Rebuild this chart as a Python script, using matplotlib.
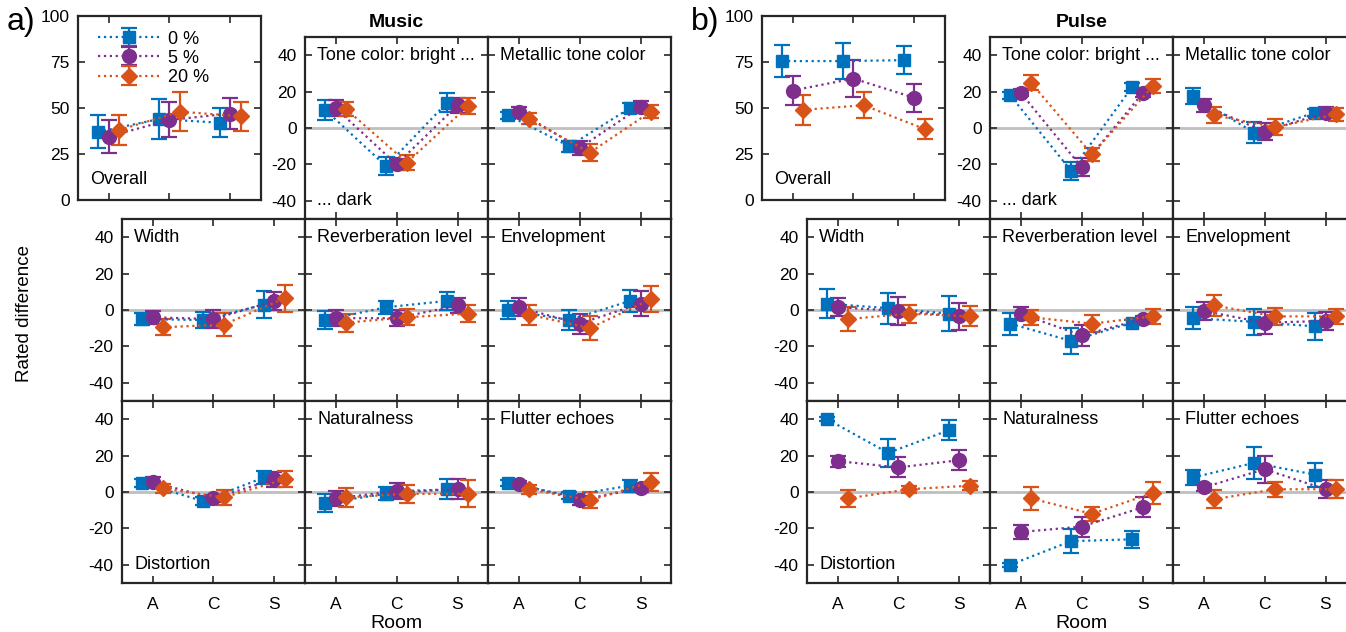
import matplotlib
matplotlib.use("Agg")
import matplotlib.pyplot as plt
import numpy as np

plt.rcParams["font.family"] = ["Liberation Sans", "DejaVu Sans"]
plt.rcParams["font.size"] = 12
plt.rcParams["axes.unicode_minus"] = False

rooms = ["A", "C", "S"]
levels = ["0 %", "5 %", "20 %"]
colors = ["#0072BD", "#7E2F8E", "#D95319"]
markers = ["s", "o", "D"]
msizes = [8.5, 10, 8]

panel_names = ["Overall", "Tone color: bright ...", "Metallic tone color",
               "Width", "Reverberation level", "Envelopment",
               "Distortion", "Naturalness", "Flutter echoes"]

# rows of each array: 0 %, 5 %, 20 %; columns: rooms A, C, S
music_overall_m = [[37, 44, 42], [34.5, 43.5, 47], [38, 48, 45.5]]
music_overall_e = [[9, 11, 8], [9, 9.5, 8.5], [8, 10.5, 8]]
music_tone_m = [[10, -21, 14], [11, -20, 12.5], [10.5, -19, 12]]
music_tone_e = [[5.5, 5, 5], [4.5, 3, 4], [4, 4, 4.5]]
music_metal_m = [[7, -10, 11], [9, -11, 11.5], [5, -13.5, 9]]
music_metal_e = [[2, 3, 3], [2.5, 4, 3.5], [3, 4.5, 3.5]]
music_width_m = [[-5, -5.5, 3], [-4, -5, 5], [-9.5, -8, 6.5]]
music_width_e = [[3.5, 4.5, 7.5], [3.5, 5, 5], [4.5, 6.5, 7.5]]
music_reverb_m = [[-5.5, 1.5, 5], [-4.5, -4.5, 2.5], [-7, -4, -2]]
music_reverb_e = [[5, 3.5, 5], [4.5, 4.5, 4], [5, 4.5, 4.5]]
music_envel_m = [[0, -5.5, 5], [1.5, -7.5, 3.5], [-2.5, -10, 6]]
music_envel_e = [[5, 5.5, 6], [5, 5.5, 7], [5.5, 6.5, 7]]
music_dist_m = [[5, -5, 8], [5.5, -3.5, 7], [2, -3, 7]]
music_dist_e = [[2, 2, 3.5], [2.5, 2, 4], [2.5, 4, 4.5]]
music_natural_m = [[-6, -1, 1.5], [-3.5, 0.5, 1.5], [-3, -1, -1]]
music_natural_e = [[5, 3.5, 5.5], [4, 4.5, 5.5], [5, 5, 7.5]]
music_flutter_m = [[5, -2, 3.5], [4.5, -4.5, 2], [1.5, -4.5, 5.5]]
music_flutter_e = [[1.5, 2, 3], [1.5, 2.5, 2], [2.5, 4.5, 5]]

pulse_overall_m = [[75.5, 75.5, 76], [59.5, 66, 55.5], [49, 51.5, 38.5]]
pulse_overall_e = [[8.5, 10, 7.5], [8, 10, 7.5], [8, 7, 5.5]]
pulse_tone_m = [[18, -23.5, 22.5], [19.5, -21.5, 19], [25, -14.5, 23]]
pulse_tone_e = [[2, 5, 2], [2, 5, 2], [4, 3.5, 4]]
pulse_metal_m = [[17.5, -2.5, 8.5], [12.5, -2, 8.5], [7, 0.5, 7.5]]
pulse_metal_e = [[4.5, 6, 2], [3.5, 4.5, 3], [4.5, 4.5, 3.5]]
pulse_width_m = [[3.5, 1, -2], [1.5, -0.5, -3.5], [-5, -2, -3.5]]
pulse_width_e = [[8, 8.5, 9.5], [5, 7.5, 7.5], [6.5, 5, 5.5]]
pulse_reverb_m = [[-7.5, -17, -7], [-2, -14, -5], [-4, -7.5, -3.5]]
pulse_reverb_e = [[6, 7, 1.5], [3.5, 6, 1.5], [4, 4.5, 4]]
pulse_envel_m = [[-4.5, -6.5, -9], [-0.5, -7, -6], [2.5, -3.5, -3.5]]
pulse_envel_e = [[6, 7, 7.5], [5, 6, 5], [6, 4.5, 4]]
pulse_dist_m = [[40, 21.5, 34], [17, 13.5, 17.5], [-3.5, 1.5, 3.5]]
pulse_dist_e = [[1, 7.5, 5.5], [3, 5.5, 5.5], [4.5, 2, 2.5]]
pulse_natural_m = [[-40, -27, -26], [-22, -19, -8.5], [-3.5, -12, -0.5]]
pulse_natural_e = [[1, 6.5, 4.5], [4, 5.5, 5.5], [6.5, 4, 6]]
pulse_flutter_m = [[8, 16, 9.5], [2.5, 12.5, 1.5], [-4, 1.5, 1.5]]
pulse_flutter_e = [[4, 9, 6.5], [2, 7.5, 5], [5, 4, 5]]

music_means = [music_overall_m, music_tone_m, music_metal_m, music_width_m, music_reverb_m,
               music_envel_m, music_dist_m, music_natural_m, music_flutter_m]
music_errs = [music_overall_e, music_tone_e, music_metal_e, music_width_e, music_reverb_e,
              music_envel_e, music_dist_e, music_natural_e, music_flutter_e]
pulse_means = [pulse_overall_m, pulse_tone_m, pulse_metal_m, pulse_width_m, pulse_reverb_m,
               pulse_envel_m, pulse_dist_m, pulse_natural_m, pulse_flutter_m]
pulse_errs = [pulse_overall_e, pulse_tone_e, pulse_metal_e, pulse_width_e, pulse_reverb_e,
              pulse_envel_e, pulse_dist_e, pulse_natural_e, pulse_flutter_e]

W, H = 1346, 632
fig = plt.figure(figsize=(W / 100, H / 100), dpi=100)

x = np.arange(1, 4)
offsets = [-0.17, 0, 0.17]
cw, rh = 183, 182
label_fs = 13


def style_axes(ax):
    for s in ax.spines.values():
        s.set_linewidth(1.6)
        s.set_color("#262626")
    ax.tick_params(direction="in", length=5, width=1.2, top=True, right=True,
                   color="#262626", labelsize=12.5, pad=6)
    ax.tick_params(axis="x", pad=10)
    ax.set_xlim(0.5, 3.5)
    ax.set_xticks(x)


def draw_series(ax, means, errs, legend=False):
    for k in range(3):
        ax.errorbar(x + offsets[k], means[k], yerr=errs[k], color=colors[k],
                    marker=markers[k], markersize=msizes[k], ls=":", lw=1.6,
                    elinewidth=1.6, capsize=6, capthick=1.6, label=levels[k], zorder=3)
    if legend:
        ax.legend(loc="upper left", frameon=False, handlelength=3.4, fontsize=13,
                  borderaxespad=0.2, labelspacing=0.12, handletextpad=0.5,
                  bbox_to_anchor=(0.05, 0.98))


def draw_group(x0, ov_left, means, errs, title, letter, with_ylabel):
    # overall panel
    ax = fig.add_axes([ov_left / W, (H - 200) / H, 183 / W, 184 / H])
    style_axes(ax)
    ax.set_ylim(0, 100)
    ax.set_yticks([0, 25, 50, 75, 100])
    ax.set_xticklabels([])
    draw_series(ax, means[0], errs[0], legend=(letter == "a)"))
    ax.text(0.7, 11, panel_names[0], va="center", ha="left", fontsize=label_fs)
    fig.text((ov_left - 71) / W, (H - 22) / H, letter, fontsize=23, ha="left", va="center")

    for i in range(1, 9):
        r, c = divmod(i, 3)
        ax = fig.add_axes([(x0 + c * cw) / W, (H - 37 - rh * (r + 1)) / H, cw / W, rh / H])
        style_axes(ax)
        ax.set_ylim(-50, 50)
        ax.set_yticks([-40, -20, 0, 20, 40])
        ax.axhline(0, color="#BFBFBF", lw=2, zorder=1)
        draw_series(ax, means[i], errs[i])
        if not (c == 0 or (r == 0 and c == 1)):
            ax.set_yticklabels([])
        if r == 2:
            ax.set_xticklabels(rooms)
        else:
            ax.set_xticklabels([])
        if i == 1:
            ax.text(0.7, 40, "Tone color: bright ...", va="center", ha="left", fontsize=label_fs)
            ax.text(0.7, -40, "... dark", va="center", ha="left", fontsize=label_fs)
            ax.set_title(title, fontsize=14, fontweight="bold", pad=7)
        elif i == 6:
            ax.text(0.7, -40, panel_names[i], va="center", ha="left", fontsize=label_fs)
        else:
            ax.text(0.7, 40, panel_names[i], va="center", ha="left", fontsize=label_fs)
        if r == 2 and c == 1:
            ax.set_xlabel("Room", fontsize=14, labelpad=2)
        if with_ylabel and r == 1 and c == 0:
            fig.text(25 / W, (H - 314) / H, "Rated difference", rotation=90,
                     ha="center", va="center", fontsize=13.5)


draw_group(122, 78, music_means, music_errs, "Music", "a)", True)
draw_group(807, 762, pulse_means, pulse_errs, "Pulse", "b)", False)

fig.savefig("out.png", dpi=100)
